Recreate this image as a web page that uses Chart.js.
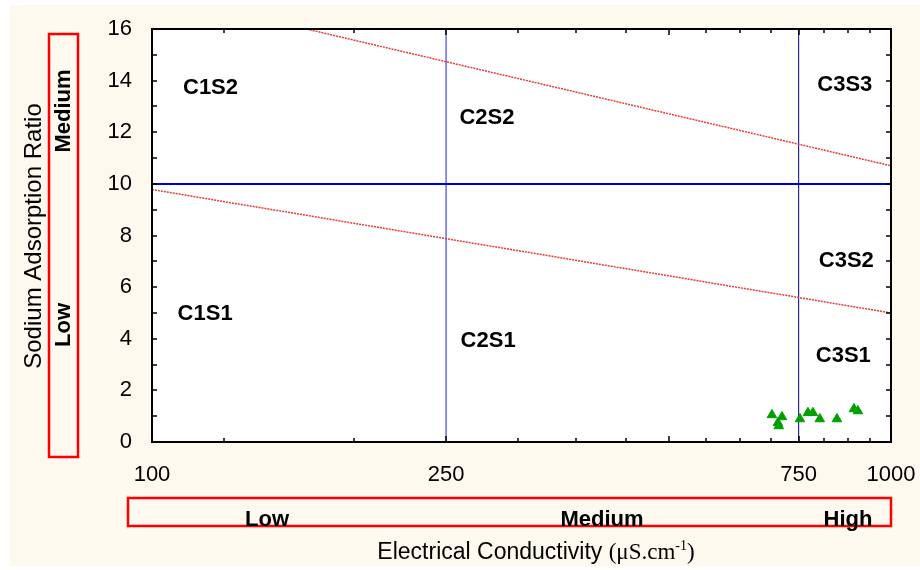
<!DOCTYPE html>
<html>
<head>
<meta charset="utf-8">
<script src="https://cdn.jsdelivr.net/npm/chart.js@4.4.1/dist/chart.umd.min.js"></script>
<style>
  html, body { margin: 0; padding: 0; background: #fff; }
  canvas { display: block; }
</style>
</head>
<body>
<canvas id="chart" width="920" height="570"></canvas>
<script>
// ---- data -------------------------------------------------------------------
const ecValues  = [690, 712, 703, 705, 753, 772, 784, 801, 845, 891, 902];
const sarValues = [1.05, 0.97, 0.74, 0.62, 0.89, 1.13, 1.13, 0.89, 0.89, 1.28, 1.20];

// class boundaries (EC in uS/cm, SAR)
const boundaryEc = [100, 1000];
const upperSar   = [17.4, 10.7];
const lowerSar   = [9.78, 5.0];
const limitSar   = [10, 10];
const lowMedEc   = [250, 250];
const medHighEc  = [750, 750];
const fullSar    = [0, 16];

// region labels
const regionNames = ["C1S2", "C2S2", "C3S3", "C1S1", "C2S1", "C3S2", "C3S1"];
const regionEc    = [120, 284, 866, 118, 285, 870, 862];
const regionSar   = [13.7, 12.55, 13.85, 4.97, 3.92, 7.03, 3.34];

// axes
const xTickValues = [100, 125, 187.5, 250, 312.5, 375, 437.5, 500, 562.5, 625, 687.5, 750, 812.5, 875, 937.5, 1000];
const xTickLabels = [100, 250, 750, 1000];
const yTickValues = [0, 1, 2, 3, 4, 5, 6, 7, 8, 9, 10, 11, 12, 13, 14, 15, 16];
const yTickLabels = [0, 2, 4, 6, 8, 10, 12, 14, 16];

const CREAM = "#fdf9ee";
const RED = "#ff0000";

function pts(xs, ys) { return xs.map((x, i) => ({ x, y: ys[i] })); }
function lineSet(data, color, width, dash) {
  return { type: "line", data, borderColor: color, borderWidth: width, borderDash: dash || [],
    pointRadius: 0, fill: false, tension: 0 };
}

// ---- plugins ------------------------------------------------------------------
const backdrop = {
  id: "backdrop",
  beforeDraw(chart) {
    const { ctx, chartArea: a } = chart;
    ctx.save();
    ctx.fillStyle = "#fff";
    ctx.fillRect(0, 0, chart.width, chart.height);
    ctx.fillStyle = CREAM;
    ctx.fillRect(10, 5, 910, 561);
    ctx.fillStyle = "#fff";
    ctx.fillRect(a.left, a.top, a.right - a.left, a.bottom - a.top);
    ctx.restore();
  },
};

const decor = {
  id: "decor",
  afterDatasetsDraw(chart) {
    const { ctx, chartArea: a, scales: { x, y } } = chart;
    ctx.save();
    // region labels
    ctx.fillStyle = "#000";
    ctx.font = "bold 22px Arial, 'Liberation Sans', sans-serif";
    ctx.textAlign = "center";
    ctx.textBaseline = "middle";
    regionNames.forEach((n, i) => ctx.fillText(n, x.getPixelForValue(regionEc[i]), y.getPixelForValue(regionSar[i])));

    // inward tick marks
    ctx.strokeStyle = "#000";
    ctx.lineWidth = 1.5;
    ctx.beginPath();
    xTickValues.forEach(v => {
      const px = Math.round(x.getPixelForValue(v));
      const len = (v % 250 === 0) ? 6 : 4;
      ctx.moveTo(px, a.bottom); ctx.lineTo(px, a.bottom - len);
      ctx.moveTo(px, a.top); ctx.lineTo(px, a.top + len);
    });
    yTickValues.forEach(v => {
      const py = Math.round(y.getPixelForValue(v));
      ctx.moveTo(a.left, py); ctx.lineTo(a.left + 5, py);
      ctx.moveTo(a.right, py); ctx.lineTo(a.right - 5, py);
    });
    ctx.stroke();

    // frame
    ctx.lineWidth = 2;
    ctx.strokeRect(a.left, a.top, a.right - a.left, a.bottom - a.top);
    ctx.restore();
  },
  afterDraw(chart) {
    const { ctx } = chart;
    ctx.save();
    ctx.fillStyle = "#000";

    // y axis title
    ctx.save();
    ctx.translate(34, 236);
    ctx.rotate(-Math.PI / 2);
    ctx.font = "24px Arial, 'Liberation Sans', sans-serif";
    ctx.textAlign = "center";
    ctx.textBaseline = "middle";
    ctx.fillText("Sodium Adsorption Ratio", 0, 0);
    ctx.restore();

    // left class box
    ctx.strokeStyle = RED;
    ctx.lineWidth = 2.5;
    ctx.strokeRect(49, 34, 29, 423);
    ctx.font = "bold 22px Arial, 'Liberation Sans', sans-serif";
    ctx.textAlign = "center";
    ctx.textBaseline = "middle";
    [["Medium", 111], ["Low", 325]].forEach(([t, cy]) => {
      ctx.save();
      ctx.translate(64, cy);
      ctx.rotate(-Math.PI / 2);
      ctx.fillText(t, 0, 0);
      ctx.restore();
    });

    // bottom class box
    ctx.strokeRect(128, 498, 763, 28);
    ctx.textBaseline = "alphabetic";
    [["Low", 267], ["Medium", 602], ["High", 848]].forEach(([t, cx]) => ctx.fillText(t, cx, 526));

    // x axis title: Electrical Conductivity (uS.cm-1)
    const parts = [
      ["Electrical Conductivity ", "23px Arial, 'Liberation Sans', sans-serif", 0],
      ["(\u03bcS.cm", "23px 'Times New Roman', 'Liberation Serif', serif", 0],
      ["-1", "14px 'Times New Roman', 'Liberation Serif', serif", -9],
      [")", "23px 'Times New Roman', 'Liberation Serif', serif", 0],
    ];
    let total = 0;
    parts.forEach(p => { ctx.font = p[1]; total += ctx.measureText(p[0]).width; });
    let cx = 536 - total / 2;
    ctx.textAlign = "left";
    parts.forEach(p => {
      ctx.font = p[1];
      ctx.fillText(p[0], cx, 559 + p[2]);
      cx += ctx.measureText(p[0]).width;
    });
    ctx.restore();
  },
};

// ---- chart ----------------------------------------------------------------------
const tickFont = { family: "Arial, 'Liberation Sans', sans-serif", size: 22 };

new Chart(document.getElementById("chart"), {
  type: "scatter",
  data: {
    datasets: [
      { type: "scatter", data: pts(ecValues, sarValues), pointStyle: "triangle", pointRadius: 5.5,
        backgroundColor: "#00a000", borderColor: "#00a000", borderWidth: 1 },
      lineSet(pts(boundaryEc, upperSar), "#e53a3a", 1.5, [2, 1]),
      lineSet(pts(boundaryEc, lowerSar), "#e53a3a", 1.5, [2, 1]),
      lineSet(pts(boundaryEc, limitSar), "#0000d8", 2),
      lineSet(pts(lowMedEc, fullSar), "#6a6ae6", 1.5),
      lineSet(pts(medHighEc, fullSar), "#000088", 1),
    ],
  },
  options: {
    responsive: false,
    animation: false,
    layout: { padding: { left: 0, right: 29, top: 29, bottom: 0 } },
    plugins: { legend: { display: false }, tooltip: { enabled: false } },
    scales: {
      x: {
        type: "logarithmic", min: 100, max: 1000,
        afterBuildTicks: s => { s.ticks = xTickValues.map(v => ({ value: v })); },
        afterFit: s => { s.height = 128; s.paddingLeft = 0; s.paddingRight = 0; },
        grid: { display: false }, border: { display: false },
        ticks: { autoSkip: false, maxRotation: 0, padding: 12, color: "#000", font: tickFont,
          callback: v => xTickLabels.includes(v) ? String(v) : "" },
      },
      y: {
        min: 0, max: 16,
        afterBuildTicks: s => { s.ticks = yTickValues.map(v => ({ value: v })); },
        afterFit: s => { s.width = 152; s.paddingTop = 0; s.paddingBottom = 0; },
        grid: { display: false }, border: { display: false },
        ticks: { autoSkip: false, padding: 12, color: "#000", font: tickFont,
          callback: v => yTickLabels.includes(v) ? String(v) : "" },
      },
    },
  },
  plugins: [backdrop, decor],
});
</script>
</body>
</html>
